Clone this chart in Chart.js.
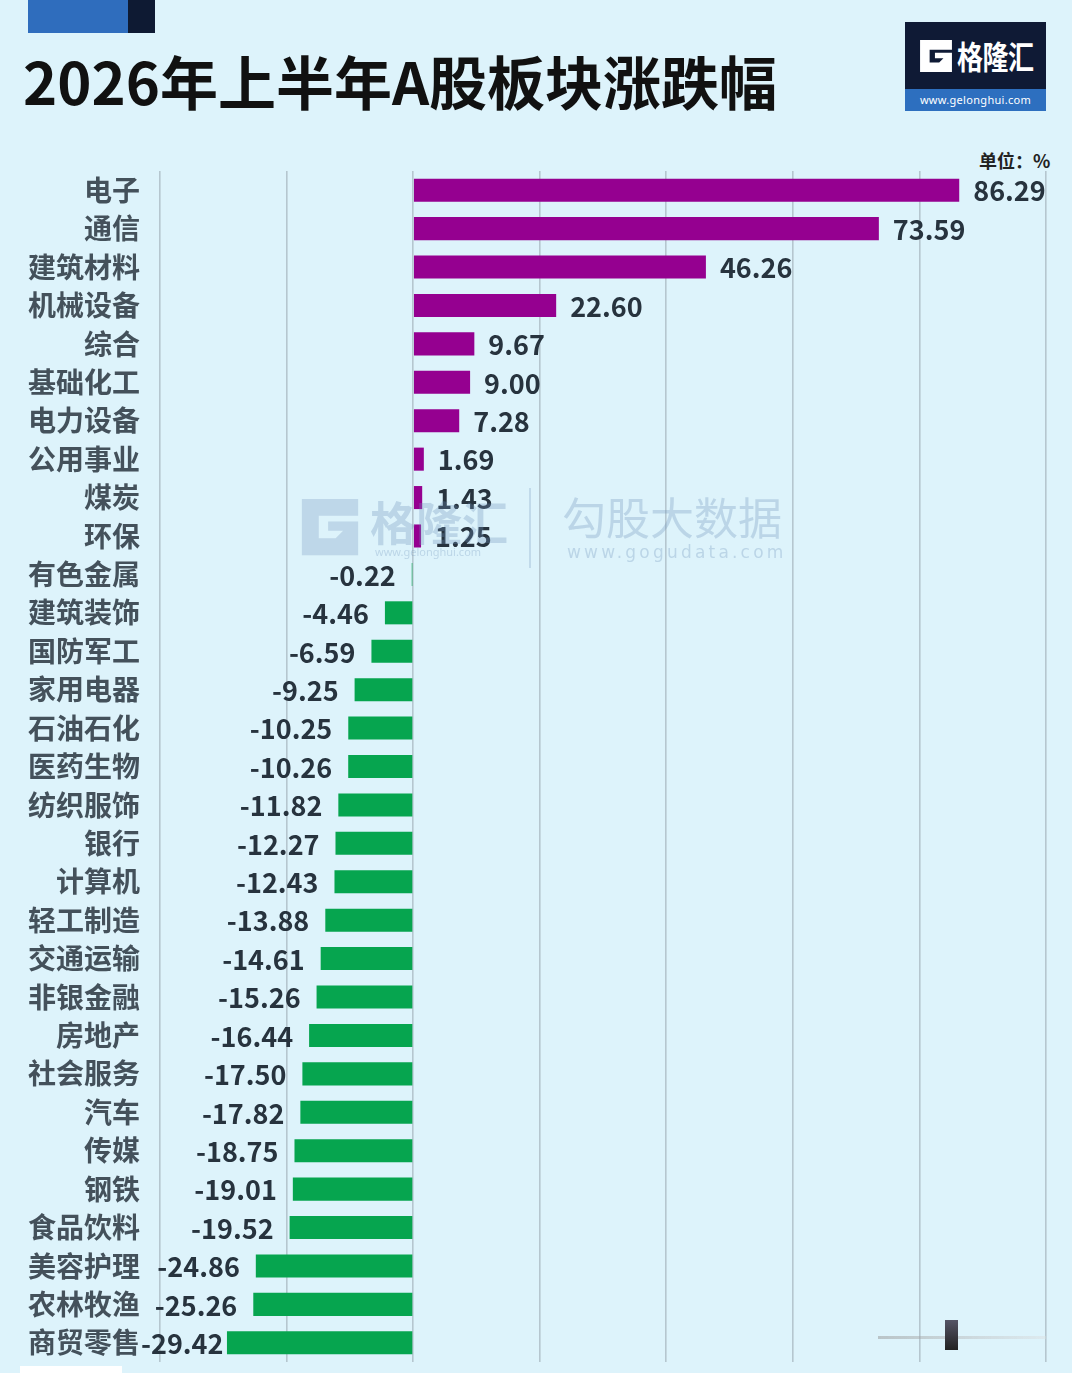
<!DOCTYPE html>
<html>
<head>
<meta charset="utf-8">
<script src="https://cdn.jsdelivr.net/npm/chart.js@4.4.1/dist/chart.umd.min.js"></script>
<style>
  html, body { margin:0; padding:0; }
  body { width:1072px; height:1373px; background:#ddf3fb; position:relative; overflow:hidden;
         font-family:'Noto Sans CJK SC','Noto Sans',sans-serif; }
  #c { position:absolute; left:0; top:0; }
  .abs { position:absolute; }
  #title { left:23px; top:40px; font-size:58px; font-weight:700; color:#111; letter-spacing:0px; white-space:nowrap; line-height:80px; }
  #blue1 { left:28px; top:0; width:100px; height:33px; background:#2f6dbd; }
  #blue2 { left:128px; top:0; width:27px; height:33px; background:#0e1a33; }
  #logo { left:905px; top:22px; width:141px; height:89px; background:#0f1a35; }
  #logoStrip { left:905px; top:89px; width:141px; height:22px; background:#2d6fbf; color:#fff; font-size:11px; text-align:center; line-height:22px; font-family:'Noto Sans',sans-serif; letter-spacing:0.3px; }
  #logoText { left:957px; top:34px; color:#fff; font-size:26px; font-weight:700; line-height:44px; letter-spacing:-0.5px; transform:scaleY(1.22); transform-origin:left center; }
  #unit { left:979px; top:146px; font-size:18px; font-weight:700; color:#222; line-height:28px; }
  .wm { color:rgba(110,145,185,0.30); }
</style>
</head>
<body>
<div id="blue1" class="abs"></div>
<div id="blue2" class="abs"></div>
<div id="title" class="abs">2026年上半年A股板块涨跌幅</div>
<div id="logo" class="abs"></div>
<svg class="abs" style="left:919px;top:39px" width="34" height="34" viewBox="0 0 32 32">
  <path d="M1 1 H31 V10 H10 V22 H19 L23 18 H15 V13 H31 V31 H1 Z" fill="#fff"/>
</svg>
<div id="logoText" class="abs">格隆汇</div>
<div id="logoStrip" class="abs">www.gelonghui.com</div>
<div id="unit" class="abs">单位：%</div>
<canvas id="c" width="1072" height="1373"></canvas>
<!-- watermark -->
<svg class="abs" style="left:299px;top:497px;opacity:0.28" width="62" height="60" viewBox="0 0 32 32">
  <path d="M1 1 H31 V10 H10 V22 H19 L23 18 H15 V13 H31 V31 H1 Z" fill="#6f91b9"/>
</svg>
<div class="abs wm" style="left:370px;top:488px;font-size:46px;font-weight:700;line-height:64px;">格隆汇</div>
<div class="abs wm" style="left:375px;top:545px;font-size:11px;line-height:14px;font-family:'Noto Sans',sans-serif;">www.gelonghui.com</div>
<div class="abs" style="left:529px;top:488px;width:2px;height:80px;background:rgba(110,145,185,0.25);"></div>
<div class="abs wm" style="left:562px;top:484px;font-size:44px;line-height:64px;">勾股大数据</div>
<div class="abs wm" style="left:567px;top:541px;font-size:17px;line-height:22px;letter-spacing:3.2px;font-family:'DejaVu Sans',sans-serif;">www.gogudata.com</div>
<div class="abs" style="left:878px;top:1336px;width:168px;height:3px;background:linear-gradient(90deg,rgba(150,150,150,0.5),rgba(220,220,220,0.4));"></div>
<div class="abs" style="left:945px;top:1320px;width:13px;height:30px;background:linear-gradient(180deg,#556,#222);"></div>
<div class="abs" style="left:20px;top:1366px;width:102px;height:7px;background:#fff;"></div>
<script>
const categories = ['电子','通信','建筑材料','机械设备','综合','基础化工','电力设备','公用事业','煤炭','环保','有色金属','建筑装饰','国防军工','家用电器','石油石化','医药生物','纺织服饰','银行','计算机','轻工制造','交通运输','非银金融','房地产','社会服务','汽车','传媒','钢铁','食品饮料','美容护理','农林牧渔','商贸零售'];
const values = [86.29,73.59,46.26,22.60,9.67,9.00,7.28,1.69,1.43,1.25,-0.22,-4.46,-6.59,-9.25,-10.25,-10.26,-11.82,-12.27,-12.43,-13.88,-14.61,-15.26,-16.44,-17.50,-17.82,-18.75,-19.01,-19.52,-24.86,-25.26,-29.42];
const xTicks = [-40,-20,0,20,40,60,80,100];

const UP = '#950090', DOWN = '#06a54f';
const FONT = "'Noto Sans CJK SC','Noto Sans',sans-serif";
const LABEL_GAP = 20;

const valueLabels = {
  id:'valueLabels',
  afterDatasetsDraw(chart){
    const ctx = chart.ctx;
    const meta = chart.getDatasetMeta(0);
    const minLeft = chart.chartArea.left - LABEL_GAP + 1;
    ctx.save();
    ctx.font = "bold 27px " + FONT;
    ctx.fillStyle = '#27333e';
    ctx.textBaseline = 'middle';
    meta.data.forEach((bar, i) => {
      const v = values[i];
      const txt = v.toFixed(2);
      if (v >= 0) { ctx.textAlign = 'left'; ctx.fillText(txt, bar.x + 14, bar.y + 1); }
      else {
        const w = ctx.measureText(txt).width;
        let right = bar.x - 16;
        if (right - w < minLeft) right = minLeft + w;
        ctx.textAlign = 'right'; ctx.fillText(txt, right, bar.y + 1);
      }
    });
    ctx.restore();
  }
};

function draw(){
  new Chart(document.getElementById('c'), {
    type:'bar',
    data:{ labels:categories, datasets:[{ data:values,
      backgroundColor: values.map(v => v >= 0 ? UP : DOWN),
      barPercentage:0.6, categoryPercentage:1.0 }] },
    options:{
      indexAxis:'y', responsive:false, animation:false,
      layout:{ padding:{ top:171, bottom:11, right:26, left:0 } },
      plugins:{ legend:{display:false}, tooltip:{enabled:false} },
      scales:{
        x:{ min:xTicks[0], max:xTicks[xTicks.length-1],
            afterBuildTicks(s){ s.ticks = xTicks.map(v => ({value:v})); },
            ticks:{ display:false }, border:{ display:false },
            grid:{ color:'#b5c6cf', lineWidth:1.6, drawTicks:false },
            afterFit(s){ s.height = 0; } },
        y:{ grid:{ display:false, drawTicks:true, tickLength:LABEL_GAP }, border:{ display:false },
            ticks:{ color:'#44515b', padding:0, font:{ family:FONT, size:28, weight:'bold', lineHeight:0.7 } },
            afterFit(s){ s.width = 160; } }
      }
    },
    plugins:[valueLabels]
  });
}
Promise.all([
  document.fonts.load("bold 27px 'Noto Sans CJK SC'"),
  document.fonts.load("27px 'Noto Sans CJK SC'")
]).then(draw, draw);
</script>
</body>
</html>
